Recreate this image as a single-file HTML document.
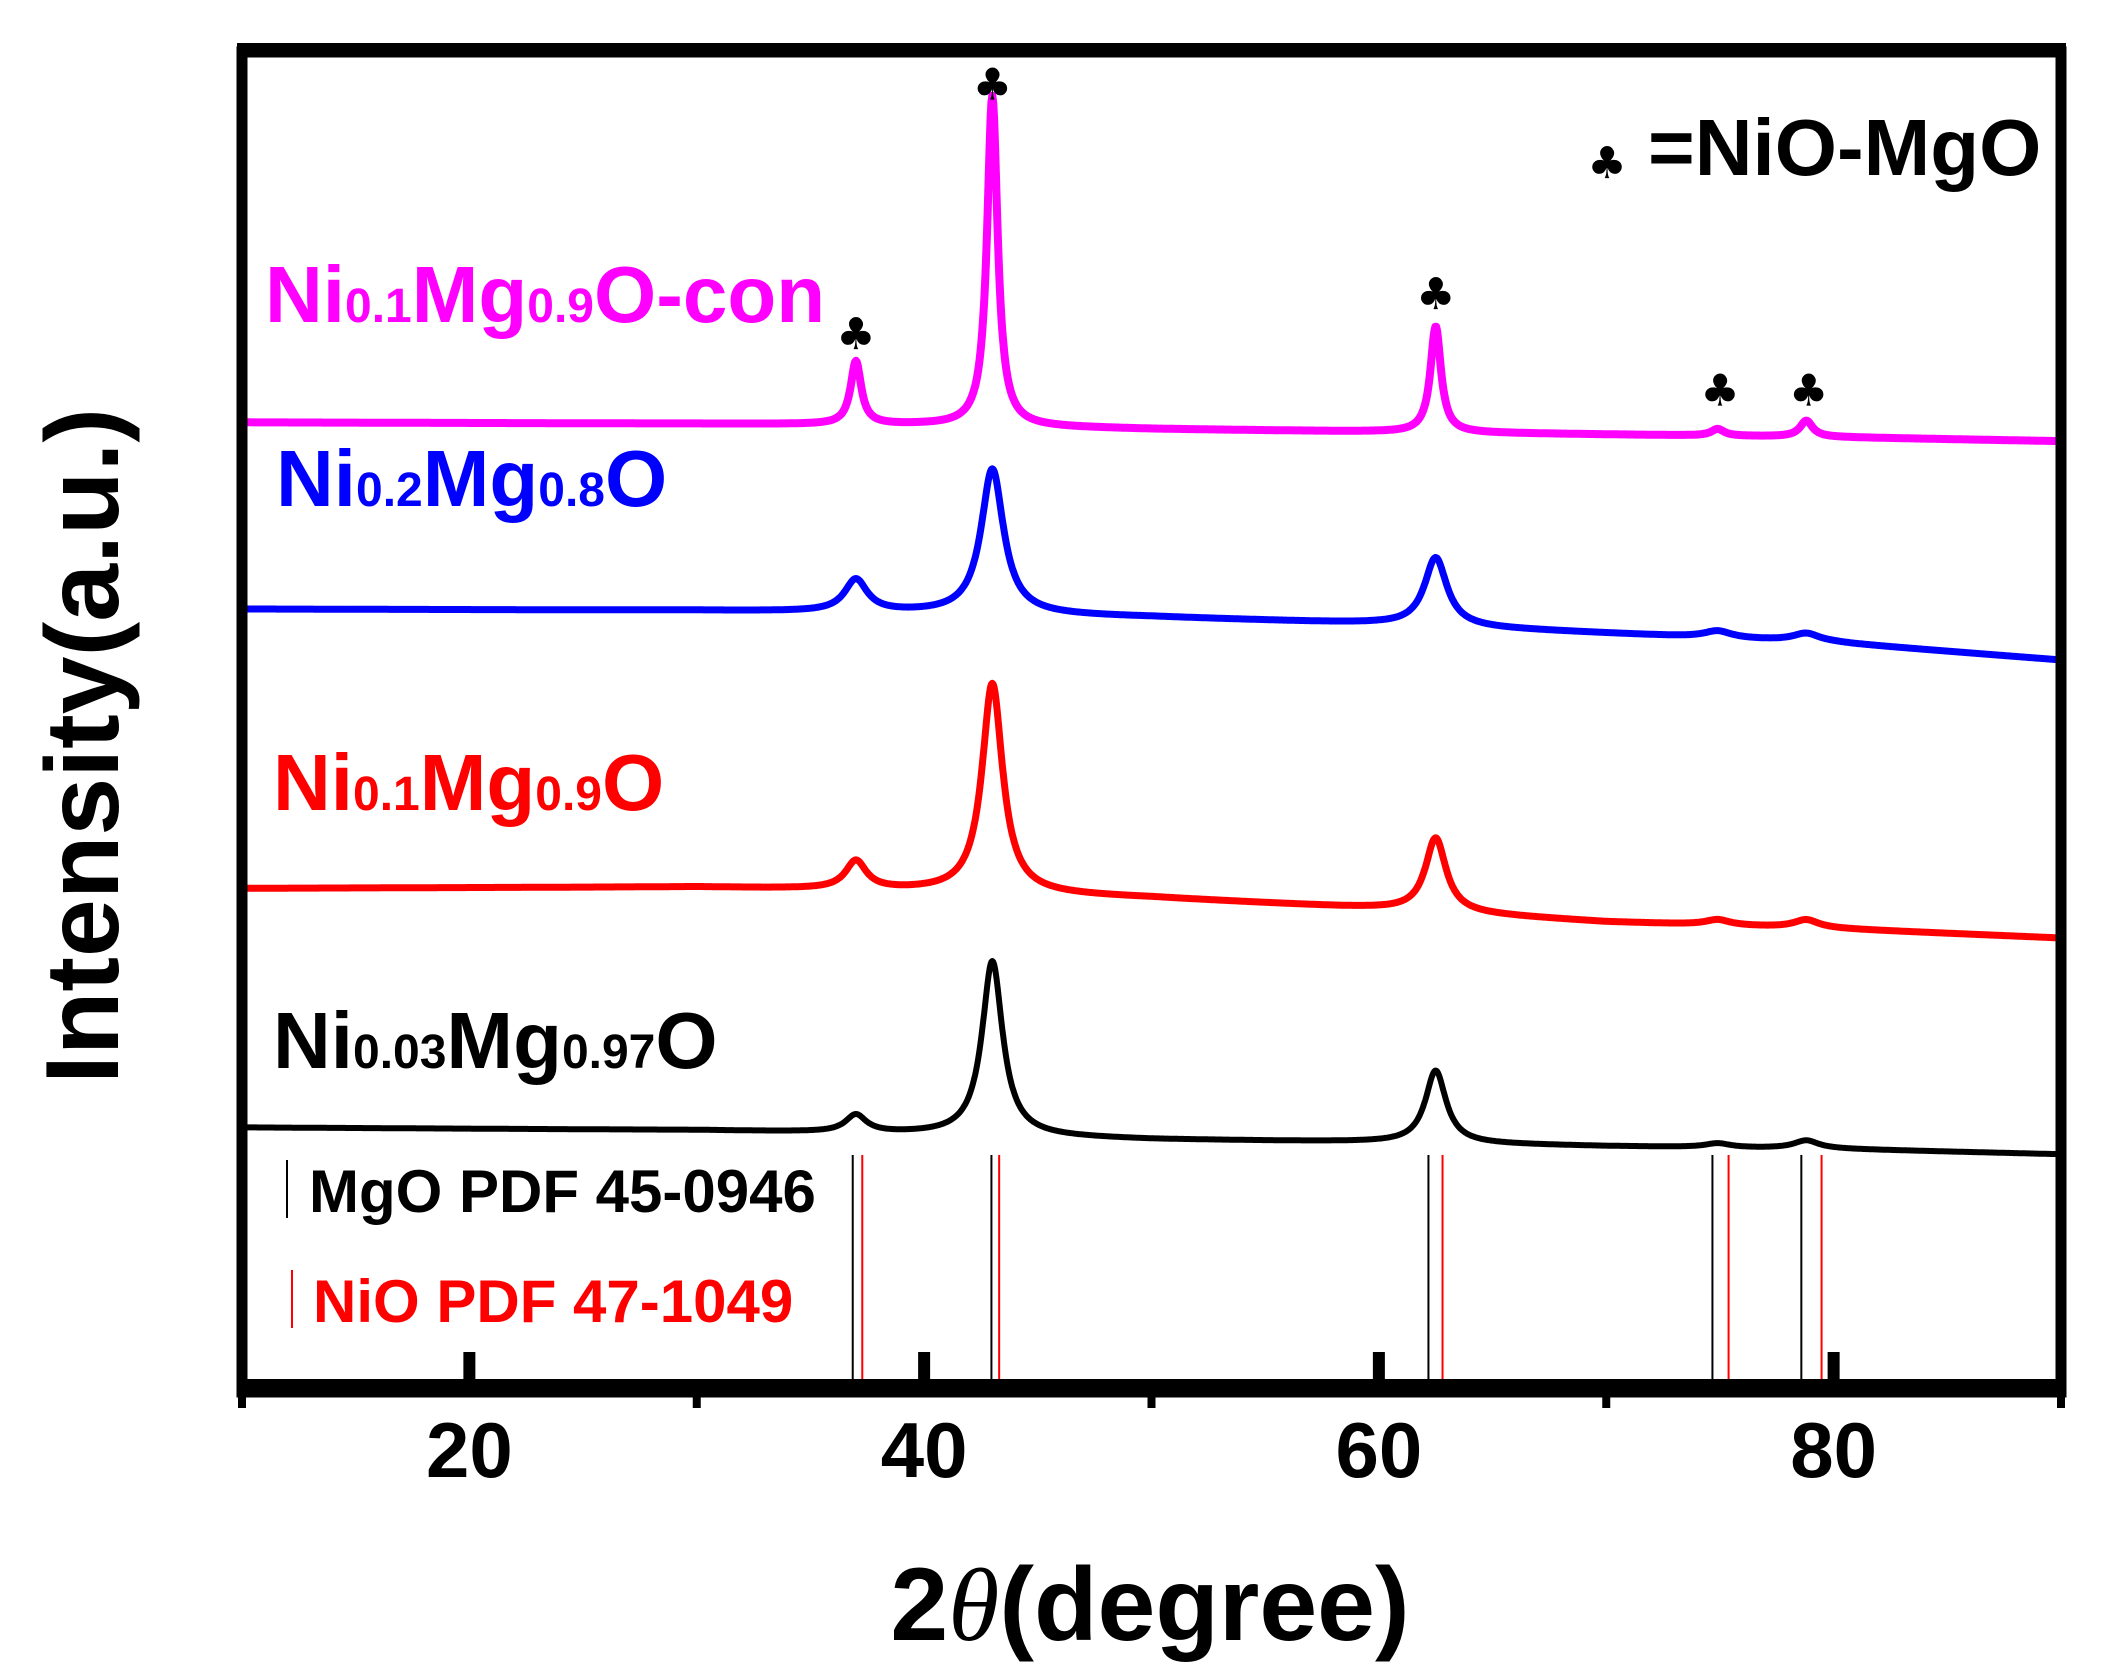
<!DOCTYPE html>
<html><head><meta charset="utf-8"><style>
html,body{margin:0;padding:0;background:#fff;}
svg{display:block;font-family:"Liberation Sans",Arial,sans-serif;font-weight:bold;}
</style></head><body>
<svg id="chart" width="2109" height="1672" viewBox="0 0 2109 1672">
<g id="plot"></g>
</svg>
<script>
// ---- data (intensity in a.u., x in 2θ degrees) ----
const seriesNames = ["Ni0.03Mg0.97O","Ni0.1Mg0.9O","Ni0.2Mg0.8O","Ni0.1Mg0.9O-con"];
const baseTheta = [10,30,40,50,60,70,80,90];
const baseBlack = [197,195,192,188,186,183,181,177];
const baseRed = [375,376,373,368,360,350,345,338];
const baseBlue = [583,582,580,577,572,565,558,545];
const baseMag = [722,721,720,717,715,713,711,708];
const peakPos = [37,43,62.5,74.9,78.8];
const peakBlack = [13,130,54,3,6];
const peakRed = [21,156,55,4,6];
const peakBlue = [24,108,51,5,6];
const peakMag = [47,246,79,5,12];
const mgoLines = [36.86,42.96,62.18,74.67,78.58];
const nioLines = [37.28,43.3,62.8,75.38,79.47];
const clubTheta = [37,43,62.5,75.0,78.9];
const clubVal = [787,973,817,745,745];
const xTicks = [20,40,60,80];
const xMinor = [10,30,50,70,90];

// ---- scales ----
const L=242,R=2061,B=1392,T=47;
const xs = t => L + (t-10)*(R-L)/80;
const ys = v => B - v*1.343;
const NS="http://www.w3.org/2000/svg";
const plot=document.getElementById('plot');
function el(tag,attrs,parent){const e=document.createElementNS(NS,tag);for(const k in attrs)e.setAttribute(k,attrs[k]);(parent||plot).appendChild(e);return e;}
function interp(t,xa,ya){for(let i=0;i<xa.length-1;i++){if(t<=xa[i+1]){const f=(t-xa[i])/(xa[i+1]-xa[i]);return ya[i]+f*(ya[i+1]-ya[i]);}}return ya[ya.length-1];}

// reference lines
mgoLines.forEach((t,i)=>{const l=el('line',{x1:xs(t),x2:xs(t),y1:1155,y2:1380,stroke:'#000','stroke-width':2});

});
nioLines.forEach((t,i)=>{const l=el('line',{x1:xs(t),x2:xs(t),y1:1155,y2:1380,stroke:'#f00','stroke-width':2});

});

// series
const defs=[[baseBlack,peakBlack,'#000',0.55,6,'series-ni003'],[baseRed,peakRed,'#f00',0.55,7,'series-ni01'],[baseBlue,peakBlue,'#00f',0.6,7,'series-ni02'],[baseMag,peakMag,'#f0f',0.28,8,'series-ni01-con']];
defs.forEach(d=>{
  const [bv,pv,col,g,w,name]=d;let p='';
  for(let t=10;t<=90.001;t+=0.04){
    let v=interp(t,baseTheta,bv);
    pv.forEach((h,i)=>{const dx=(t-peakPos[i])/(i>=3?g*1.2:g);v+=h/(1+dx*dx);});
    p+=(p?'L':'M')+xs(t).toFixed(1)+' '+ys(v).toFixed(1);
  }
  const e=el('path',{d:p,fill:'none',stroke:col,'stroke-width':w,'stroke-linejoin':'round'});
  
  
});

// club markers
clubTheta.forEach((t,i)=>{const c=el('text',{x:xs(t),y:ys(clubVal[i])+14,'text-anchor':'middle','font-size':44,'font-family':'DejaVu Sans'});c.textContent='♣';

});

// frame
el('rect',{x:L,y:T+5,width:R-L,height:B-T-5,fill:'none',stroke:'#000','stroke-width':11});
el('rect',{x:L-5,y:T-4,width:R-L+10,height:14,fill:'#000'});
el('rect',{x:L-5,y:1379,width:R-L+10,height:17,fill:'#000'});
xTicks.forEach(t=>{const k=el('rect',{x:xs(t)-6,y:1352,width:12,height:30,fill:'#000'});


const lb=el('text',{x:xs(t),y:1477,'text-anchor':'middle','font-size':78});lb.textContent=t;

});
xMinor.forEach(t=>{const k=el('rect',{x:xs(t)-4,y:1390,width:8,height:18,fill:'#000'});

});
</script>
<script>
const s=document.getElementById('chart');
s.insertAdjacentHTML('beforeend',`
<text x="1150" y="1640" text-anchor="middle" font-size="104">2<tspan font-style="italic" font-family="Liberation Serif" font-weight="normal">θ</tspan>(degree)</text>
<text transform="translate(118,746) rotate(-90)" text-anchor="middle" font-size="104">Intensity(a.u.)</text>
<text x="265" y="322" font-size="80" fill="#f0f">Ni<tspan font-size="48">0.1</tspan>Mg<tspan font-size="48">0.9</tspan>O-con</text>
<text x="276" y="506" font-size="80" fill="#00f">Ni<tspan font-size="48">0.2</tspan>Mg<tspan font-size="48">0.8</tspan>O</text>
<text x="273" y="810" font-size="80" fill="#f00">Ni<tspan font-size="48">0.1</tspan>Mg<tspan font-size="48">0.9</tspan>O</text>
<text x="273" y="1068" font-size="80" fill="#000">Ni<tspan font-size="48">0.03</tspan>Mg<tspan font-size="48">0.97</tspan>O</text>
<g>
<text x="1607" y="178" font-size="44" text-anchor="middle" font-family="DejaVu Sans">♣</text>
<text x="1648" y="175" font-size="80">=NiO-MgO</text></g>
<g>
<line x1="287" x2="287" y1="1160" y2="1218" stroke="#000" stroke-width="2"/>
<text x="309" y="1212" font-size="60">MgO PDF 45-0946</text></g>
<g>
<line x1="292" x2="292" y1="1270" y2="1328" stroke="#f00" stroke-width="2"/>
<text x="313" y="1322" font-size="60" fill="#f00">NiO PDF 47-1049</text></g>
`);
</script>
</body></html>
